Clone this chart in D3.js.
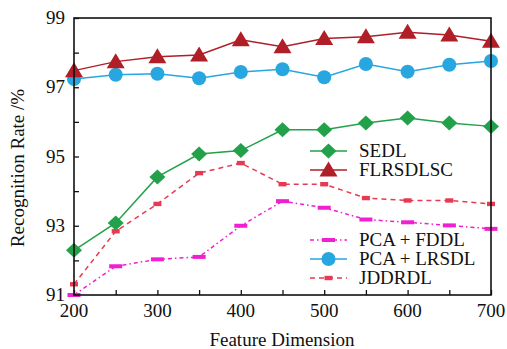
<!DOCTYPE html>
<html>
<head>
<meta charset="utf-8">
<script src="https://cdn.jsdelivr.net/npm/d3@7"></script>
<style>
  body { margin: 0; background: #fff; }
</style>
</head>
<body>
<div id="chart"></div>
<script>
const dims = [200, 250, 300, 350, 400, 450, 500, 550, 600, 650, 700];
const sedl = [92.29, 93.08, 94.41, 95.07, 95.17, 95.77, 95.77, 95.97, 96.11, 95.97, 95.87];
const flrsdlsc = [97.48, 97.74, 97.88, 97.93, 98.37, 98.17, 98.41, 98.46, 98.59, 98.51, 98.33];
const pcaFddl = [91.0, 91.83, 92.03, 92.1, 93.0, 93.71, 93.52, 93.18, 93.1, 93.01, 92.91];
const pcaLrsdl = [97.24, 97.36, 97.39, 97.26, 97.44, 97.52, 97.29, 97.67, 97.45, 97.65, 97.76];
const jddrdl = [91.31, 92.84, 93.63, 94.52, 94.81, 94.2, 94.2, 93.8, 93.73, 93.73, 93.63];

const xTickLabels = [200, 300, 400, 500, 600, 700];
const yTickLabels = [91, 93, 95, 97, 99];

const series = [
    {name: "SEDL", values: sedl, color: "#23a14a", marker: "diamond", dash: null},
    {name: "FLRSDLSC", values: flrsdlsc, color: "#b01e27", marker: "triangle", dash: null},
    {name: "PCA + FDDL", values: pcaFddl, color: "#f01fd0", marker: "bar", dash: "4,3,1.5,3"},
    {name: "PCA + LRSDL", values: pcaLrsdl, color: "#27a6df", marker: "circle", dash: null},
    {name: "JDDRDL", values: jddrdl, color: "#e63a52", marker: "smallbar", dash: "5,4"}
];

const width = 507, height = 349;
const margin = {left: 74, right: 16, top: 18, bottom: 54};

const svg = d3.select("#chart").append("svg")
    .attr("width", width)
    .attr("height", height);

const x = d3.scaleLinear().domain([200, 700]).range([margin.left, width - margin.right]);
const y = d3.scaleLinear().domain([91, 99]).range([height - margin.bottom, margin.top]);

function label(sel) {
    return sel.style("font-family", "Liberation Serif")
        .style("font-size", "19px")
        .attr("fill", "#111");
}

// inward ticks
svg.append("g")
    .attr("transform", "translate(0," + y(91) + ")")
    .call(d3.axisBottom(x).tickValues(d3.range(200, 701, 50)).tickSize(-5).tickFormat(""))
    .call(g => g.select(".domain").remove())
    .call(g => g.selectAll("line").attr("stroke", "#111").attr("stroke-width", 1.3));

svg.append("g")
    .attr("transform", "translate(" + x(200) + ",0)")
    .call(d3.axisLeft(y).tickValues(d3.range(91, 100, 1)).tickSize(-5).tickFormat(""))
    .call(g => g.select(".domain").remove())
    .call(g => g.selectAll("line").attr("stroke", "#111").attr("stroke-width", 1.3));

// tick labels
svg.append("g").selectAll("text")
    .data(xTickLabels)
    .enter()
    .append("text")
    .attr("x", d => x(d))
    .attr("y", y(91) + 22)
    .attr("text-anchor", "middle")
    .call(label)
    .text(d => d);

svg.append("g").selectAll("text")
    .data(yTickLabels)
    .enter()
    .append("text")
    .attr("x", x(200) - 9)
    .attr("y", d => y(d) + 6)
    .attr("text-anchor", "end")
    .call(label)
    .text(d => d);

// axis titles
svg.append("text")
    .attr("x", 282)
    .attr("y", 346)
    .attr("text-anchor", "middle")
    .call(label)
    .text("Feature Dimension");

svg.append("text")
    .attr("transform", "translate(24,168) rotate(-90)")
    .attr("text-anchor", "middle")
    .call(label)
    .text("Recognition Rate /%");

function drawMarker(g, type, color) {
    if (type === "circle") {
        g.append("circle").attr("r", 7).attr("fill", color);
    } else if (type === "triangle") {
        g.append("path").attr("d", "M0,-8.5L9,6.5L-9,6.5Z").attr("fill", color);
    } else if (type === "diamond") {
        g.append("path").attr("d", "M0,-7.5L8,0L0,7.5L-8,0Z").attr("fill", color);
    } else if (type === "bar") {
        g.append("rect").attr("x", -6.5).attr("y", -2).attr("width", 13).attr("height", 4).attr("fill", color);
    } else if (type === "smallbar") {
        g.append("rect").attr("x", -4).attr("y", -2.2).attr("width", 8).attr("height", 4.4).attr("fill", color);
    }
}

const line = d3.line()
    .x((d, i) => x(dims[i]))
    .y(d => y(d));

// draw order: lower ones first
const drawOrder = [2, 4, 0, 3, 1];
drawOrder.forEach(function(k) {
    const s = series[k];
    svg.append("path")
        .datum(s.values)
        .attr("fill", "none")
        .attr("stroke", s.color)
        .attr("stroke-width", 1.5)
        .attr("stroke-dasharray", s.dash)
        .attr("d", line);

    svg.append("g").selectAll("g")
        .data(s.values)
        .enter()
        .append("g")
        .attr("transform", (d, i) => "translate(" + x(dims[i]) + "," + y(d) + ")")
        .each(function() { drawMarker(d3.select(this), s.marker, s.color); });
});

// frame
svg.append("rect")
    .attr("x", x(200))
    .attr("y", y(99))
    .attr("width", x(700) - x(200))
    .attr("height", y(91) - y(99))
    .attr("fill", "none")
    .attr("stroke", "#111")
    .attr("stroke-width", 1.6);

// legends
const legendRows = [
    {k: 0, y: 151}, {k: 1, y: 170},
    {k: 2, y: 240}, {k: 3, y: 259}, {k: 4, y: 278}
];
legendRows.forEach(function(r) {
    const s = series[r.k];
    const g = svg.append("g");
    g.append("line")
        .attr("x1", 310).attr("x2", 347)
        .attr("y1", r.y).attr("y2", r.y)
        .attr("stroke", s.color)
        .attr("stroke-width", 1.5)
        .attr("stroke-dasharray", s.dash);
    const m = g.append("g").attr("transform", "translate(328.5," + r.y + ")");
    drawMarker(m, s.marker, s.color);
    g.append("text")
        .attr("x", 359)
        .attr("y", r.y + 6)
        .call(label)
        .text(s.name);
});
</script>
</body>
</html>
